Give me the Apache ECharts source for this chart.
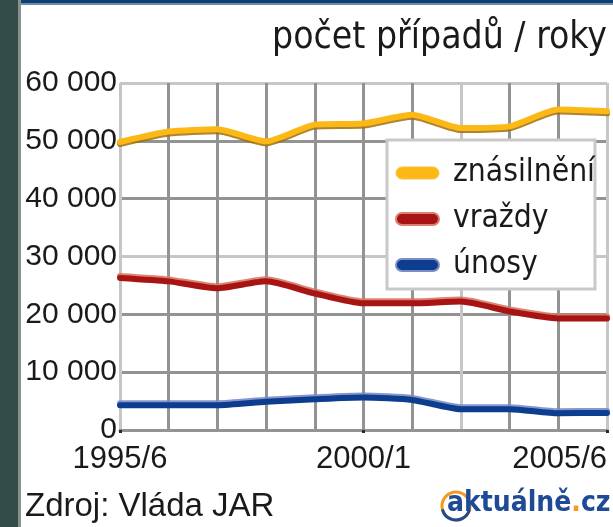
<!DOCTYPE html>
<html>
<head>
<meta charset="utf-8">
<script src="https://cdn.jsdelivr.net/npm/echarts@6/dist/echarts.min.js"></script>
<style>
html,body{margin:0;padding:0;background:#fff;}
#c{width:613px;height:527px;}
</style>
</head>
<body>
<div id="c"></div>
<script>
// ---- data ----
var categories = ['1995/6','1996/7','1997/8','1998/9','1999/00','2000/1','2001/2','2002/3','2003/4','2004/5','2005/6'];
var seriesNames = ['znásilnění','vraždy','únosy'];
var znasilneni = [49800, 51600, 52000, 49900, 52800, 53000, 54500, 52200, 52500, 55400, 55100];
var vrazdy     = [26300, 25700, 24500, 25700, 23600, 21900, 21900, 22200, 20500, 19300, 19300];
var unosy      = [4300, 4300, 4300, 4900, 5300, 5600, 5200, 3600, 3600, 2900, 2950];
var yTickLabels = ['0','10 000','20 000','30 000','40 000','50 000','60 000'];
var titleText = 'počet případů / roky';
var sourceText = 'Zdroj: Vláda JAR';

var COND = "'DejaVu Sans Condensed', 'Liberation Sans Narrow', 'Liberation Sans', sans-serif";
var chart = echarts.init(document.getElementById('c'), null, {renderer:'canvas'});
var DARK = '#939393', LIGHT = '#c6c6c6';
var pill = 'path://M6,0 L37,0 A6,6 0 0 1 37,12 L6,12 A6,6 0 0 1 6,0 Z';

var option = {
  backgroundColor: '#ffffff',
  animation: false,
  title: {
    text: titleText,
    right: 1, top: 15,
    textStyle: {fontFamily: COND, fontWeight: 'normal', fontSize: 37, color: '#1a1a1a'}
  },
  grid: {left: 120, right: 6, top: 83, bottom: 97},
  legend: {
    orient: 'vertical',
    left: 387, top: 140,
    padding: [16, 0, 7, 8],
    itemGap: 12,
    itemWidth: 43, itemHeight: 12,
    backgroundColor: '#ffffff',
    borderColor: '#c9c9c9', borderWidth: 3,
    textStyle: {fontFamily: COND, fontSize: 31.5, color: '#1a1a1a', lineHeight: 34, padding: [0,0,0,9]},
    data: [
      {name: seriesNames[0], icon: pill, itemStyle: {color: '#fcb814', borderColor: '#fcc040', borderWidth: 1}},
      {name: seriesNames[1], icon: pill, itemStyle: {color: '#a81414', borderColor: '#d98070', borderWidth: 2}},
      {name: seriesNames[2], icon: pill, itemStyle: {color: '#0c3d8e', borderColor: '#7d8dc4', borderWidth: 2}}
    ],
    z: 10
  },
  xAxis: {
    type: 'category',
    data: categories,
    boundaryGap: false,
    axisLine: {show: true, lineStyle: {color: DARK, width: 3}},
    axisTick: {show: true, interval: 4, length: 3, lineStyle: {color: '#1b2a48', width: 3}},
    axisLabel: {
      interval: 4, margin: 14,
      fontFamily: 'Liberation Sans', fontSize: 31, color: '#1a1a1a',
      alignMinLabel: 'center', alignMaxLabel: 'right'
    },
    splitLine: {show: true, interval: 0, lineStyle: {width: 3, color: [LIGHT, DARK, DARK, DARK, DARK, DARK, DARK, LIGHT, DARK, DARK, LIGHT]}}
  },
  yAxis: {
    type: 'value',
    min: 0, max: 60000, interval: 10000,
    axisLine: {show: false},
    axisTick: {show: false},
    axisLabel: {
      margin: 3,
      fontFamily: 'Liberation Sans', fontSize: 30, color: '#1a1a1a',
      formatter: function (v) { return yTickLabels[Math.round(v / 10000)]; }
    },
    splitLine: {show: true, lineStyle: {width: 3, color: [DARK, DARK, DARK, LIGHT, DARK, DARK, LIGHT]}}
  },
  series: [
    {name: seriesNames[0], type: 'line', data: znasilneni, symbol: 'none', smooth: 0.2, z: 3,
     lineStyle: {color: '#fcb814', width: 6, cap: 'round', join: 'round', shadowColor: 'rgba(160,110,10,0.85)', shadowOffsetY: 2, shadowBlur: 0}},
    {name: seriesNames[1], type: 'line', data: vrazdy, symbol: 'none', smooth: 0.2, z: 3,
     lineStyle: {color: '#a81414', width: 6, cap: 'round', join: 'round', shadowColor: 'rgba(215,120,100,0.9)', shadowOffsetY: -2, shadowBlur: 0}},
    {name: seriesNames[2], type: 'line', data: unosy, symbol: 'none', smooth: 0.2, z: 3,
     lineStyle: {color: '#0c3d8e', width: 6, cap: 'round', join: 'round', shadowColor: 'rgba(120,140,200,0.9)', shadowOffsetY: -2, shadowBlur: 0}}
  ],
  graphic: [
    {type: 'rect', left: 0, top: 0, shape: {width: 18, height: 527}, style: {fill: '#344c47'}, z: 100},
    {type: 'rect', left: 18, top: 0, shape: {width: 3, height: 527}, style: {fill: '#8b8f8d'}, z: 100},
    {type: 'rect', left: 21, top: 0, shape: {width: 592, height: 3}, style: {fill: '#0d3f70'}, z: 100},
    {type: 'rect', left: 21, top: 3, shape: {width: 592, height: 2}, style: {fill: '#6f89ae'}, z: 100},
    {type: 'text', left: 25, top: 490, style: {text: sourceText, font: '33px "Liberation Sans"', fill: '#1a1a1a'}, z: 100},
    {type: 'circle', shape: {cx: 456, cy: 506, r: 14}, style: {fill: 'none', stroke: '#f59a20', lineWidth: 3}, z: 100},
    {type: 'arc', shape: {cx: 456, cy: 506, r: 14, startAngle: 0.3, endAngle: 2.9}, style: {fill: 'none', stroke: '#1e4a96', lineWidth: 3}, z: 101},
    {type: 'text', left: 447, top: 490, z: 102, style: {
      text: '{b|aktuálně}{o|.}{b|cz}',
      rich: {
        b: {fontFamily: COND, fontWeight: 'bold', fontSize: 28, fill: '#1e4a96'},
        o: {fontFamily: COND, fontWeight: 'bold', fontSize: 28, fill: '#f59a20'}
      }
    }}
  ]
};
chart.setOption(option);
</script>
</body>
</html>
